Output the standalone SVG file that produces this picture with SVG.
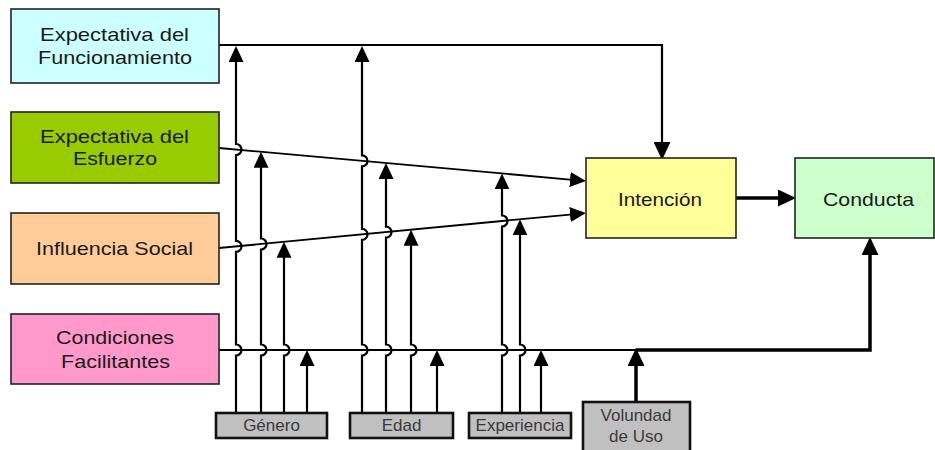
<svg xmlns="http://www.w3.org/2000/svg" width="935" height="450" viewBox="0 0 935 450">
<style>
.box{stroke:#222;stroke-width:1.6}
.sm{fill:#c0c0c0;stroke:#111;stroke-width:2.6}
.t{font-family:"Liberation Sans",Arial,sans-serif;font-size:19px;fill:#1a1a1a;text-anchor:middle}
.ts{font-family:"Liberation Sans",Arial,sans-serif;font-size:17px;fill:#3a3a3a;text-anchor:middle}
.c{fill:none;stroke:#000;stroke-width:2.2}
.c1{fill:none;stroke:#000;stroke-width:1.8}
.ck{fill:none;stroke:#000;stroke-width:3.5}
</style>
<defs>
<marker id="ah" markerUnits="userSpaceOnUse" markerWidth="16" markerHeight="15" refX="8" refY="7.5" orient="auto" viewBox="0 0 16 15">
<path d="M0,0 L16,7.5 L0,15 Z" fill="#000"/>
</marker>
<marker id="ahL" markerUnits="userSpaceOnUse" markerWidth="18" markerHeight="17" refX="8" refY="8.5" orient="auto" viewBox="0 0 18 17">
<path d="M0,0 L18,8.5 L0,17 Z" fill="#000"/>
</marker>
</defs>
<rect width="935" height="450" fill="#fff"/>

<g id="connectors">
<path class="c" d="M219,45 H662 V150" marker-end="url(#ahL)"/>
<path class="c1" d="M219,148 L578,180.3" marker-end="url(#ah)"/>
<path class="c1" d="M219,248 L578,213.8" marker-end="url(#ah)"/>
<path class="c1" d="M219,350 H636"/>
<path class="ck" d="M636,350 H870 V247" marker-end="url(#ahL)"/>
<path class="ck" d="M736,198 H786" marker-end="url(#ahL)"/>

<path class="c" d="M236,413 V355.5 A5.5,5.5 0 0 0 236,344.5 V251.9 A5.5,5.5 0 0 0 236,240.9 V155 A5.5,5.5 0 0 0 236,144 V54" marker-end="url(#ah)"/>
<path class="c" d="M261,413 V355.5 A5.5,5.5 0 0 0 261,344.5 V249.5 A5.5,5.5 0 0 0 261,238.5 V159.8" marker-end="url(#ah)"/>
<path class="c" d="M284,413 V355.5 A5.5,5.5 0 0 0 284,344.5 V249.8" marker-end="url(#ah)"/>
<path class="c" d="M307,413 V358" stroke-width="2.8" marker-end="url(#ah)"/>

<path class="c" d="M362,413 V355.5 A5.5,5.5 0 0 0 362,344.5 V239.9 A5.5,5.5 0 0 0 362,228.9 V166.4 A5.5,5.5 0 0 0 362,155.4 V54" marker-end="url(#ah)"/>
<path class="c" d="M386,413 V355.5 A5.5,5.5 0 0 0 386,344.5 V237.6 A5.5,5.5 0 0 0 386,226.6 V171" marker-end="url(#ah)"/>
<path class="c" d="M411,413 V355.5 A5.5,5.5 0 0 0 411,344.5 V237.7" marker-end="url(#ah)"/>
<path class="c" d="M437,413 V358" stroke-width="2.8" marker-end="url(#ah)"/>

<path class="c" d="M502,413 V355.5 A5.5,5.5 0 0 0 502,344.5 V226.5 A5.5,5.5 0 0 0 502,215.5 V181.4" marker-end="url(#ah)"/>
<path class="c" d="M520,413 V355.5 A5.5,5.5 0 0 0 520,344.5 V227.3" marker-end="url(#ah)"/>
<path class="c" d="M541,413 V358" marker-end="url(#ah)"/>

<path class="ck" d="M636,402 V358" marker-end="url(#ahL)"/>
</g>

<g id="funcionamiento">
<rect class="box" x="11" y="9" width="208" height="74" fill="#ccffff"/>
<text class="t" x="114.5" y="41" textLength="149" lengthAdjust="spacingAndGlyphs">Expectativa del</text>
<text class="t" x="115" y="64" textLength="154" lengthAdjust="spacingAndGlyphs">Funcionamiento</text>
</g>
<g id="esfuerzo">
<rect class="box" x="11" y="112" width="208" height="71" fill="#99cc00"/>
<text class="t" x="114.5" y="143" textLength="149" lengthAdjust="spacingAndGlyphs">Expectativa del</text>
<text class="t" x="115" y="165" textLength="84" lengthAdjust="spacingAndGlyphs">Esfuerzo</text>
</g>
<g id="influencia">
<rect class="box" x="11" y="213" width="208" height="71" fill="#ffcc99"/>
<text class="t" x="114.5" y="255" textLength="157" lengthAdjust="spacingAndGlyphs">Influencia Social</text>
</g>
<g id="condiciones">
<rect class="box" x="11" y="314" width="208" height="70" fill="#ff99cc"/>
<text class="t" x="115" y="344" textLength="118" lengthAdjust="spacingAndGlyphs">Condiciones</text>
<text class="t" x="115.5" y="368" textLength="109" lengthAdjust="spacingAndGlyphs">Facilitantes</text>
</g>
<g id="intencion">
<rect class="box" x="586" y="158" width="150" height="80" fill="#ffff99"/>
<text class="t" x="660" y="206" textLength="84" lengthAdjust="spacingAndGlyphs">Intención</text>
</g>
<g id="conducta">
<rect class="box" x="795" y="158" width="139" height="80" fill="#ccffcc"/>
<text class="t" x="868.5" y="206" textLength="91" lengthAdjust="spacingAndGlyphs">Conducta</text>
</g>
<g id="genero">
<rect class="sm" x="216" y="413" width="111" height="25"/>
<text class="ts" x="271.5" y="431">Género</text>
</g>
<g id="edad">
<rect class="sm" x="350" y="413" width="103" height="25"/>
<text class="ts" x="401.5" y="431">Edad</text>
</g>
<g id="experiencia">
<rect class="sm" x="469" y="413" width="102" height="25"/>
<text class="ts" x="520" y="431">Experiencia</text>
</g>
<g id="voluntad">
<rect class="sm" x="583" y="402" width="107" height="50" stroke-width="2"/>
<text class="ts" x="636" y="421">Volundad</text>
<text class="ts" x="636" y="442">de Uso</text>
</g>
</svg>
